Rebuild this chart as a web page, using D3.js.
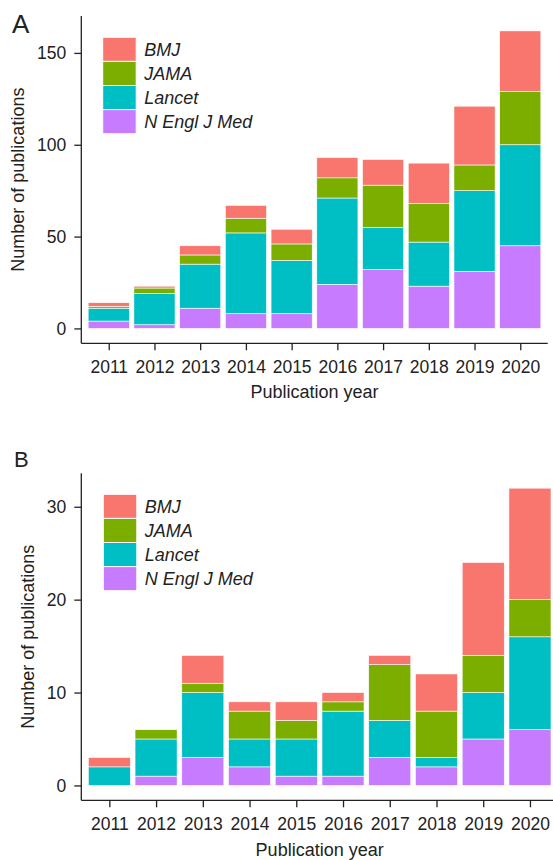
<!DOCTYPE html>
<html>
<head>
<meta charset="utf-8">
<script src="https://cdn.jsdelivr.net/npm/d3@7"></script>
<style>
  body { margin: 0; background: #fff; }
  text { font-family: "Liberation Sans", Arial, sans-serif; fill: #222; }
</style>
</head>
<body>
<svg width="553" height="860"></svg>
<script>
  // categories
  const years = ["2011", "2012", "2013", "2014", "2015", "2016", "2017", "2018", "2019", "2020"];
  const journals = ["N Engl J Med", "Lancet", "JAMA", "BMJ"]; // bottom to top
  const legendOrder = ["BMJ", "JAMA", "Lancet", "N Engl J Med"];
  const colors = ["#C77CFF", "#00BFC4", "#7CAE00", "#F8766D"];

  // panel A values
  const nejmA   = [4, 2, 11, 8, 8, 24, 32, 23, 31, 45];
  const lancetA = [7, 17, 24, 44, 29, 47, 23, 24, 44, 55];
  const jamaA   = [1, 3, 5, 8, 9, 11, 23, 21, 14, 29];
  const bmjA    = [2, 1, 5, 7, 8, 11, 14, 22, 32, 33];
  const ticksA  = [0, 50, 100, 150];

  // panel B values
  const nejmB   = [0, 1, 3, 2, 1, 1, 3, 2, 5, 6];
  const lancetB = [2, 4, 7, 3, 4, 7, 4, 1, 5, 10];
  const jamaB   = [0, 1, 1, 3, 2, 1, 6, 5, 4, 4];
  const bmjB    = [1, 0, 3, 1, 2, 1, 1, 4, 10, 12];
  const ticksB  = [0, 10, 20, 30];

  const svg = d3.select("svg");
  const color = d3.scaleOrdinal().domain(journals).range(colors);

  function drawPanel(opt) {
    const g = svg.append("g");
    const rows = years.map((y, i) => {
      const r = { year: y };
      journals.forEach((j, k) => r[j] = opt.series[k][i]);
      return r;
    });
    const stacked = d3.stack().keys(journals)(rows);
    const maxV = d3.max(rows, r => d3.sum(journals, j => r[j]));
    const pad = maxV * 0.05;

    // discrete x, ggplot-like expansion of 0.6 units
    const x = d3.scaleLinear().domain([0.4, 10.6]).range([opt.left, opt.right]);
    const y = d3.scaleLinear().domain([-pad, maxV + pad]).range([opt.bottom, opt.top]);

    g.selectAll("g.layer")
      .data(stacked)
      .join("g")
      .attr("class", "layer")
      .attr("fill", d => color(d.key))
      .selectAll("rect")
      .data(d => d)
      .join("rect")
      .attr("x", (d, i) => x(i + 1 - 0.45))
      .attr("width", x(1.45) - x(0.55))
      .attr("y", d => y(d[1]))
      .attr("height", d => y(d[0]) - y(d[1]))
      .attr("stroke", "#fff")
      .attr("stroke-width", 0.6);

    // axes
    const yAxis = d3.axisLeft(y).tickValues(opt.ticks).tickSize(7).tickPadding(8);
    const ya = g.append("g").attr("transform", `translate(${opt.left},0)`).call(yAxis);
    const xAxis = d3.axisBottom(x).tickValues(d3.range(1, 11)).tickFormat(i => years[i - 1]).tickSize(7).tickPadding(10);
    const xa = g.append("g").attr("transform", `translate(0,${opt.bottom})`).call(xAxis);
    [ya, xa].forEach(a => {
      a.select(".domain").attr("stroke", "#222").attr("stroke-width", 1.3);
      a.selectAll(".tick line").attr("stroke", "#222").attr("stroke-width", 1.3);
      a.selectAll(".tick text").style("font-size", "17.5px").attr("fill", "#222");
    });
    ya.select(".domain").attr("d", `M0,${opt.bottom}V${opt.top}`);
    xa.select(".domain").attr("d", `M${opt.left},0H${opt.right}`);

    // titles
    g.append("text")
      .attr("transform", `translate(${opt.yTitleX},${(opt.top + opt.bottom) / 2}) rotate(-90)`)
      .attr("text-anchor", "middle")
      .style("font-size", "18px")
      .text("Number of publications");
    g.append("text")
      .attr("x", (opt.left + opt.right) / 2)
      .attr("y", opt.bottom + opt.xTitleOff)
      .attr("text-anchor", "middle")
      .style("font-size", "18px")
      .text("Publication year");
    g.append("text")
      .attr("x", opt.labelX)
      .attr("y", opt.labelY)
      .style("font-size", opt.labelSize)
      .text(opt.label);

    // legend
    const lg = g.append("g").attr("transform", `translate(${opt.legX},${opt.legY})`);
    const item = lg.selectAll("g")
      .data(legendOrder)
      .join("g")
      .attr("transform", (d, i) => `translate(0,${i * 24.1})`);
    item.append("rect")
      .attr("width", 33.5)
      .attr("height", 24.1)
      .attr("fill", d => color(d))
      .attr("stroke", "#fff")
      .attr("stroke-width", 1);
    item.append("text")
      .attr("x", 41.5)
      .attr("y", 12)
      .attr("dy", "0.36em")
      .style("font-size", "18px")
      .style("font-style", "italic")
      .text(d => d);
  }

  drawPanel({
    series: [nejmA, lancetA, jamaA, bmjA], ticks: ticksA,
    left: 81.3, right: 547.7, top: 16, bottom: 343.3, xTitleOff: 55,
    yTitleX: 24, label: "A", labelX: 12, labelY: 32.5, labelSize: "26px",
    legX: 102.7, legY: 37.3
  });

  drawPanel({
    series: [nejmB, lancetB, jamaB, bmjB], ticks: ticksB,
    left: 81.3, right: 558, top: 473.3, bottom: 800.3, xTitleOff: 56,
    yTitleX: 34, label: "B", labelX: 14, labelY: 467, labelSize: "22px",
    legX: 103.3, legY: 494.3
  });
</script>
</body>
</html>
